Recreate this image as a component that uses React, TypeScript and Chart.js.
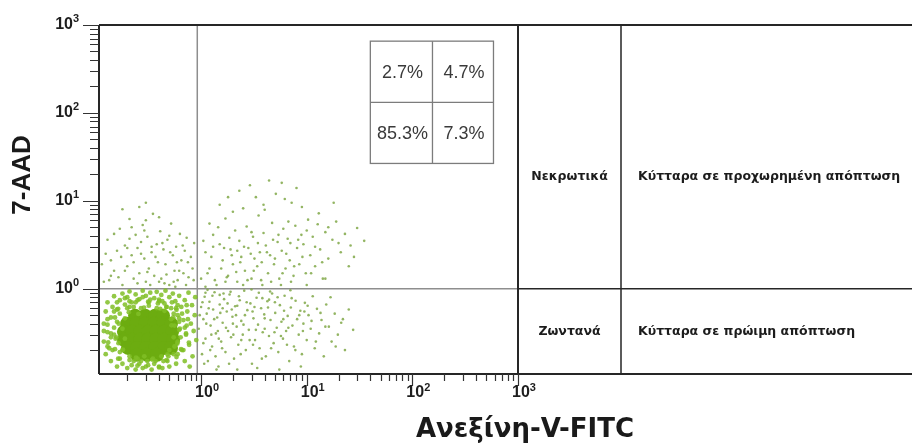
import { useEffect, useRef } from "react";
import { Chart, registerables } from "chart.js";

Chart.register(...registerables);

// ---- axis ranges & ticks ----
const X_MIN = 0.108;
const X_MAX = 1000;
const Y_MIN = 0.107;
const Y_MAX = 1000;
const majorTicks = [1, 10, 100, 1000];
const minorMultipliers = [2, 3, 4, 5, 6, 7, 8, 9];
const minorDecades = [0.1, 1, 10, 100];

// ---- quadrant gates ----
const gateX = 0.92;
const gateY = 1;

// ---- texts ----
const xTitle = "Ανεξίνη-V-FITC";
const yTitle = "7-AAD";
const quadrantPercents = ["2.7%", "4.7%", "85.3%", "7.3%"]; // UL, UR, LL, LR
const insetXBounds = [40, 155, 586];
const insetYBounds = [655, 132, 26.6];
const legendUpper = ["Νεκρωτικά", "Κύτταρα σε προχωρημένη απόπτωση"];
const legendLower = ["Ζωντανά", "Κύτταρα σε πρώιμη απόπτωση"];

// ---- events (Annexin-V-FITC, 7-AAD) ----
const upperLeftCells: [number, number][] = [
  [0.12, 1.2], [0.14, 2.1], [0.13, 3.6], [0.15, 1.6], [0.17, 4.8], [0.16, 2.7], [0.18, 1.1], [0.19, 3.1],
  [0.2, 1.8], [0.21, 6.2], [0.22, 2.4], [0.23, 1.3], [0.24, 4.1], [0.25, 2.9], [0.26, 1.5], [0.27, 3.4],
  [0.28, 5.3], [0.29, 2.2], [0.3, 1.2], [0.31, 3.9], [0.32, 1.7], [0.34, 2.6], [0.35, 7.1], [0.36, 1.4],
  [0.38, 3.2], [0.39, 2], [0.41, 4.5], [0.42, 1.3], [0.44, 2.8], [0.46, 1.9], [0.48, 3.6], [0.5, 1.1],
  [0.52, 5.5], [0.54, 2.4], [0.56, 1.6], [0.58, 3], [0.6, 1.25], [0.63, 4.2], [0.65, 2.1], [0.68, 1.5],
  [0.7, 2.7], [0.73, 3.8], [0.76, 1.35], [0.8, 2.3], [0.83, 1.7], [0.86, 3.3], [0.14, 1.4], [0.2, 2.9],
  [0.33, 1.1], [0.45, 1.15], [0.57, 1.05], [0.72, 1.1], [0.26, 8.5], [0.4, 6.5], [0.3, 9.5], [0.18, 8],
  [0.115, 1.9], [0.125, 2.5], [0.135, 1.25], [0.15, 4.2], [0.165, 1.35], [0.175, 2.3], [0.19, 1.6],
  [0.21, 3.7], [0.23, 2.0], [0.25, 1.15], [0.27, 2.5], [0.29, 4.6], [0.31, 1.55], [0.34, 3.0], [0.37, 2.3],
  [0.4, 1.2], [0.43, 3.3], [0.47, 1.45], [0.51, 2.6], [0.55, 1.2], [0.59, 2.0], [0.62, 1.6], [0.67, 3.1],
  [0.75, 2.0], [0.85, 1.25], [0.22, 5.0], [0.3, 6.0], [0.5, 4.0],
];

const upperRightCells: [number, number][] = [
  [1.0, 1.3], [1.1, 2.6], [1.2, 1.7], [1.3, 4.1], [1.4, 1.1], [1.5, 3.2], [1.6, 2.1], [1.7, 6.3],
  [1.8, 1.4], [1.9, 2.8], [2.0, 1.9], [2.1, 4.6], [2.2, 1.2], [2.3, 3.5], [2.4, 2.3], [2.5, 8.2],
  [2.6, 1.6], [2.7, 5.1], [2.8, 2.9], [3.0, 1.3], [3.1, 3.9], [3.2, 2.2], [3.4, 1.8], [3.5, 6.8],
  [3.6, 2.6], [3.8, 1.1], [3.9, 4.3], [4.1, 3.1], [4.3, 1.5], [4.5, 2.4], [4.7, 5.6], [4.9, 1.9],
  [5.1, 12], [5.3, 3.4], [5.5, 1.3], [5.8, 2.7], [6.0, 4.8], [6.3, 1.7], [6.6, 3.7], [6.9, 2.1],
  [7.2, 9.5], [7.5, 1.4], [7.8, 5.2], [8.1, 2.9], [8.5, 1.9], [8.9, 4.1], [9.3, 3.2], [9.8, 1.5],
  [10.3, 6.1], [10.8, 2.4], [11.4, 3.9], [12, 1.8], [12.7, 5.4], [13.4, 2.8], [14.2, 1.3], [15, 4.4],
  [16, 2.2], [17.5, 3.6], [19, 5.8], [21, 2.6], [23, 4.2], [26, 3.1], [30, 4.9], [35, 3.5],
  [2.9, 15], [4.4, 17], [6.2, 10.5], [3.3, 11], [1.5, 9], [8, 14], [1.2, 5.5], [2.0, 7.5],
  [4.0, 7.9], [9.0, 8.5], [13, 7.2], [18, 9.5], [1.1, 1.05], [1.7, 1.2], [2.5, 1.1], [3.7, 1.25],
  [5.7, 1.1], [7.1, 1.2], [10, 1.1], [15, 1.3], [25, 1.8],
  [1.05, 3.5], [1.15, 1.5], [1.25, 2.3], [1.35, 1.25], [1.45, 5.0], [1.55, 1.7], [1.65, 2.9], [1.75, 1.35],
  [1.85, 3.8], [1.95, 2.4], [2.15, 1.55], [2.35, 2.0], [2.55, 3.0], [2.75, 1.25], [2.95, 2.5], [3.15, 1.6],
  [3.45, 3.3], [3.75, 2.0], [4.2, 2.6], [4.6, 1.2], [5.0, 2.2], [5.4, 4.1], [5.9, 1.5], [6.4, 2.5],
  [7.0, 3.3], [7.6, 1.8], [8.3, 3.6], [9.1, 2.3], [11, 1.5], [12, 3.0], [14, 2.0], [16, 5.0],
  [20, 3.3], [28, 2.3], [1.3, 3.0], [2.2, 2.7], [3.0, 4.4], [4.8, 3.6], [6.7, 5.8], [10, 4.6],
  [2.3, 13], [5.8, 16], [3.9, 9], [1.8, 11],
];

const lowerRightCells: [number, number][] = [
  [0.95, 0.35], [1.0, 0.62], [1.02, 0.18], [1.05, 0.45], [1.08, 0.81], [1.1, 0.27], [1.13, 0.52], [1.16, 0.15],
  [1.2, 0.71], [1.23, 0.38], [1.27, 0.22], [1.3, 0.58], [1.34, 0.91], [1.38, 0.31], [1.42, 0.47], [1.46, 0.13],
  [1.5, 0.66], [1.55, 0.25], [1.6, 0.41], [1.65, 0.76], [1.7, 0.19], [1.75, 0.55], [1.8, 0.33], [1.86, 0.86],
  [1.92, 0.28], [1.98, 0.48], [2.05, 0.16], [2.1, 0.63], [2.17, 0.37], [2.25, 0.23], [2.32, 0.74], [2.4, 0.43],
  [2.48, 0.3], [2.56, 0.95], [2.65, 0.2], [2.74, 0.57], [2.83, 0.34], [2.93, 0.68], [3.03, 0.14], [3.13, 0.46],
  [3.24, 0.26], [3.35, 0.79], [3.46, 0.39], [3.58, 0.21], [3.7, 0.6], [3.83, 0.32], [3.96, 0.51], [4.1, 0.17],
  [4.24, 0.72], [4.39, 0.29], [4.54, 0.44], [4.7, 0.88], [4.86, 0.24], [5.03, 0.53], [5.2, 0.36], [5.38, 0.19],
  [5.57, 0.65], [5.76, 0.42], [5.96, 0.27], [6.17, 0.83], [6.38, 0.33], [6.6, 0.49], [6.83, 0.15], [7.07, 0.61],
  [7.32, 0.38], [7.57, 0.22], [7.84, 0.73], [8.11, 0.45], [8.4, 0.3], [8.7, 0.56], [9.0, 0.18], [9.3, 0.4],
  [9.6, 0.69], [10, 0.26], [10.4, 0.5], [10.9, 0.35], [11.4, 0.82], [11.9, 0.21], [12.5, 0.59], [13.1, 0.31],
  [13.8, 0.44], [14.5, 0.17], [15.3, 0.66], [16.2, 0.37], [17.2, 0.25], [18.4, 0.52], [19.7, 0.3], [21.2, 0.41],
  [23, 0.2], [25, 0.58], [27.5, 0.34], [1.15, 0.97], [1.9, 0.92], [3.0, 0.98], [4.5, 0.93], [7.0, 0.96],
  [2.2, 0.12], [3.4, 0.125], [5.5, 0.12], [8.8, 0.13], [1.4, 0.12], [1.25, 0.3], [1.6, 0.6], [2.0, 0.4],
  [2.6, 0.5], [3.2, 0.62], [4.0, 0.35], [5.0, 0.7], [6.0, 0.45], [1.05, 0.24], [1.5, 0.85], [2.4, 0.26],
  [3.8, 0.78], [6.5, 0.23], [9.5, 0.55],
  [0.97, 0.5], [1.03, 0.7], [1.07, 0.14], [1.12, 0.4], [1.18, 0.6], [1.22, 0.2], [1.28, 0.83], [1.33, 0.45],
  [1.37, 0.17], [1.44, 0.33], [1.52, 0.53], [1.58, 0.21], [1.63, 0.88], [1.72, 0.36], [1.78, 0.68], [1.84, 0.14],
  [1.95, 0.58], [2.02, 0.3], [2.14, 0.5], [2.28, 0.82], [2.37, 0.18], [2.52, 0.39], [2.7, 0.7], [2.88, 0.26],
  [3.07, 0.55], [3.3, 0.34], [3.52, 0.9], [3.76, 0.16], [4.0, 0.46], [4.3, 0.61], [4.6, 0.21], [4.95, 0.32],
  [5.3, 0.8], [5.7, 0.29], [6.1, 0.56], [6.7, 0.36], [7.2, 0.78], [7.8, 0.2], [8.5, 0.5], [9.2, 0.33],
  [10.2, 0.64], [11.1, 0.43], [12.2, 0.25], [13.5, 0.53], [15, 0.37], [16.8, 0.8], [18.8, 0.22], [22, 0.45],
  [1.1, 0.9], [1.47, 0.27], [2.2, 0.64], [3.1, 0.23], [4.4, 0.75],
];

const liveHaloCells: [number, number][] = [
  [0.12, 0.25], [0.12, 0.4], [0.125, 0.18], [0.125, 0.55], [0.13, 0.32], [0.13, 0.7], [0.135, 0.21], [0.14, 0.47],
  [0.14, 0.15], [0.145, 0.62], [0.15, 0.36], [0.15, 0.82], [0.155, 0.27], [0.16, 0.13], [0.16, 0.58], [0.17, 0.74],
  [0.17, 0.19], [0.18, 0.88], [0.18, 0.14], [0.19, 0.66], [0.2, 0.8], [0.2, 0.125], [0.21, 0.93], [0.22, 0.7],
  [0.22, 0.135], [0.24, 0.86], [0.24, 0.12], [0.26, 0.76], [0.26, 0.14], [0.28, 0.95], [0.28, 0.125], [0.3, 0.83],
  [0.3, 0.13], [0.32, 0.7], [0.33, 0.9], [0.34, 0.12], [0.36, 0.78], [0.36, 0.14], [0.38, 0.92], [0.4, 0.72],
  [0.4, 0.13], [0.42, 0.85], [0.43, 0.125], [0.45, 0.68], [0.46, 0.95], [0.48, 0.15], [0.5, 0.8], [0.5, 0.13],
  [0.52, 0.6], [0.54, 0.88], [0.55, 0.18], [0.57, 0.72], [0.58, 0.14], [0.6, 0.5], [0.6, 0.25], [0.62, 0.83],
  [0.63, 0.35], [0.65, 0.62], [0.66, 0.2], [0.68, 0.44], [0.7, 0.74], [0.7, 0.15], [0.72, 0.3], [0.74, 0.55],
  [0.76, 0.9], [0.77, 0.23], [0.8, 0.4], [0.82, 0.65], [0.83, 0.17], [0.85, 0.33], [0.87, 0.5], [0.88, 0.8],
  [0.78, 0.13], [0.9, 0.26],
  [0.15, 0.3], [0.16, 0.42], [0.165, 0.24], [0.17, 0.52], [0.18, 0.35], [0.18, 0.2], [0.19, 0.46], [0.2, 0.6],
  [0.21, 0.17], [0.23, 0.62], [0.25, 0.16], [0.27, 0.6], [0.29, 0.17], [0.32, 0.64], [0.35, 0.16], [0.38, 0.6],
  [0.42, 0.17], [0.45, 0.56], [0.5, 0.2], [0.52, 0.45], [0.55, 0.28], [0.56, 0.38], [0.58, 0.6], [0.6, 0.18],
  [0.19, 0.27], [0.55, 0.52],
  [0.13, 0.45], [0.14, 0.28], [0.145, 0.2], [0.15, 0.55], [0.16, 0.7], [0.17, 0.16], [0.19, 0.78], [0.21, 0.72],
  [0.23, 0.15], [0.24, 0.7], [0.27, 0.15], [0.28, 0.8], [0.31, 0.15], [0.33, 0.75], [0.37, 0.15], [0.39, 0.68],
  [0.43, 0.72], [0.44, 0.15], [0.47, 0.62], [0.49, 0.17], [0.53, 0.7], [0.56, 0.22], [0.6, 0.65], [0.62, 0.42],
  [0.64, 0.28], [0.66, 0.52], [0.7, 0.36], [0.73, 0.65], [0.12, 0.33], [0.13, 0.22], [0.75, 0.45], [0.68, 0.2],
  [0.72, 0.31], [0.73, 0.38], [0.62, 0.46], [0.585, 0.575], [0.47, 0.62], [0.4, 0.75], [0.315, 0.71], [0.25, 0.74],
  [0.21, 0.62], [0.164, 0.59], [0.153, 0.47], [0.13, 0.39], [0.14, 0.31], [0.132, 0.245], [0.153, 0.205], [0.164, 0.16],
  [0.21, 0.154], [0.25, 0.133], [0.315, 0.135], [0.4, 0.127], [0.47, 0.154], [0.585, 0.167], [0.646, 0.205], [0.766, 0.244],
  [0.62, 0.34], [0.545, 0.47], [0.41, 0.59], [0.288, 0.61], [0.207, 0.54], [0.166, 0.4], [0.158, 0.28], [0.182, 0.203],
  [0.242, 0.164], [0.344, 0.156], [0.48, 0.179], [0.596, 0.238], [0.525, 0.383], [0.255, 0.516],
];

const liveCoreCells: [number, number][] = [
  [0.237, 0.492], [0.295, 0.492], [0.366, 0.492], [0.436, 0.492],
  [0.199, 0.399], [0.242, 0.399], [0.295, 0.399], [0.359, 0.399], [0.436, 0.399], [0.519, 0.399],
  [0.186, 0.323], [0.222, 0.323], [0.264, 0.323], [0.315, 0.323], [0.375, 0.323], [0.446, 0.323], [0.531, 0.323],
  [0.186, 0.262], [0.222, 0.262], [0.264, 0.262], [0.315, 0.262], [0.375, 0.262], [0.446, 0.262], [0.543, 0.262],
  [0.203, 0.212], [0.247, 0.212], [0.301, 0.212], [0.366, 0.212], [0.446, 0.212], [0.519, 0.212],
  [0.247, 0.177], [0.308, 0.177], [0.383, 0.177],
];

const toPoints = (arr: [number, number][]) => arr.map(([x, y]) => ({ x, y }));

const flowPlugin = {
  id: "flowDecor",
  beforeDraw(chart: any) {
    const ctx = chart.ctx;
    ctx.save();
    ctx.fillStyle = "#ffffff";
    ctx.fillRect(0, 0, chart.width, chart.height);
    ctx.restore();
  },
  beforeDatasetsDraw(chart: any) {
    const ctx = chart.ctx;
    const { left, right, top, bottom } = chart.chartArea;
    const xs = chart.scales.x;
    const ys = chart.scales.y;
    const gx = xs.getPixelForValue(gateX);
    const gy = ys.getPixelForValue(gateY);
    ctx.save();
    ctx.strokeStyle = "#8e8e8e";
    ctx.lineWidth = 1.5;
    ctx.beginPath();
    ctx.moveTo(gx, top);
    ctx.lineTo(gx, bottom);
    ctx.moveTo(left, gy);
    ctx.lineTo(right, gy);
    ctx.stroke();
    ctx.restore();
  },
  afterDatasetsDraw(chart: any) {
    const ctx = chart.ctx;
    const { left, right, top, bottom } = chart.chartArea;
    const W = chart.width;
    const xs = chart.scales.x;
    const ys = chart.scales.y;
    const gy = ys.getPixelForValue(gateY);
    const colDiv = right + 103;

    ctx.save();
    // frame
    ctx.strokeStyle = "#262626";
    ctx.lineWidth = 2;
    ctx.beginPath();
    ctx.moveTo(left, top);
    ctx.lineTo(W, top);
    ctx.moveTo(left, bottom);
    ctx.lineTo(W, bottom);
    ctx.moveTo(left, top);
    ctx.lineTo(left, bottom);
    ctx.moveTo(right, top);
    ctx.lineTo(right, bottom);
    ctx.stroke();
    ctx.lineWidth = 1.5;
    ctx.beginPath();
    ctx.moveTo(colDiv, top);
    ctx.lineTo(colDiv, bottom);
    ctx.moveTo(right, gy);
    ctx.lineTo(W, gy);
    ctx.stroke();

    // ticks
    ctx.strokeStyle = "#333333";
    ctx.lineWidth = 1.2;
    ctx.beginPath();
    for (const d of minorDecades) {
      for (const m of minorMultipliers) {
        const v = d * m;
        if (v > X_MIN && v < X_MAX) {
          const px = Math.round(xs.getPixelForValue(v)) + 0.5;
          ctx.moveTo(px, bottom);
          ctx.lineTo(px, bottom + 7);
        }
        if (v > Y_MIN && v < Y_MAX) {
          const py = Math.round(ys.getPixelForValue(v)) + 0.5;
          ctx.moveTo(left, py);
          ctx.lineTo(left - 9, py);
        }
      }
    }
    for (const v of majorTicks) {
      const px = Math.round(xs.getPixelForValue(v)) + 0.5;
      ctx.moveTo(px, bottom);
      ctx.lineTo(px, bottom + 12);
      const py = Math.round(ys.getPixelForValue(v)) + 0.5;
      ctx.moveTo(left, py);
      ctx.lineTo(left - 16, py);
    }
    ctx.stroke();

    // tick labels
    ctx.fillStyle = "#1e1e1e";
    ctx.textBaseline = "alphabetic";
    for (const v of majorTicks) {
      const exp = String(Math.round(Math.log10(v)));
      const px = xs.getPixelForValue(v);
      ctx.font = 'bold 16px "Liberation Sans", Arial, sans-serif';
      ctx.textAlign = "left";
      const w10 = ctx.measureText("10").width;
      ctx.fillText("10", px - 6, bottom + 23);
      ctx.font = 'bold 11px "Liberation Sans", Arial, sans-serif';
      ctx.fillText(exp, px - 6 + w10, bottom + 17);

      const py = ys.getPixelForValue(v);
      ctx.font = 'bold 16px "Liberation Sans", Arial, sans-serif';
      ctx.textAlign = "right";
      ctx.fillText("10", left - 26, py + 4);
      ctx.font = 'bold 11px "Liberation Sans", Arial, sans-serif';
      ctx.textAlign = "left";
      ctx.fillText(exp, left - 26, py - 3);
    }

    // axis titles
    ctx.fillStyle = "#1a1a1a";
    ctx.font = 'bold 26px "DejaVu Sans", sans-serif';
    ctx.textAlign = "center";
    ctx.fillText(xTitle, right + 7, 437);
    ctx.save();
    ctx.translate(23, top + 150);
    ctx.rotate(-Math.PI / 2);
    ctx.font = 'bold 26px "Liberation Sans", Arial, sans-serif';
    ctx.textAlign = "center";
    ctx.textBaseline = "middle";
    ctx.fillText(yTitle, 0, 0);
    ctx.restore();

    // inset percentage table
    const ix = insetXBounds.map((v) => xs.getPixelForValue(v));
    const iy = insetYBounds.map((v) => ys.getPixelForValue(v));
    ctx.strokeStyle = "#7c7c7c";
    ctx.lineWidth = 1.3;
    ctx.strokeRect(ix[0], iy[0], ix[2] - ix[0], iy[2] - iy[0]);
    ctx.beginPath();
    ctx.moveTo(ix[1], iy[0]);
    ctx.lineTo(ix[1], iy[2]);
    ctx.moveTo(ix[0], iy[1]);
    ctx.lineTo(ix[2], iy[1]);
    ctx.stroke();
    ctx.fillStyle = "#3a3a3a";
    ctx.font = '18px "Liberation Sans", Arial, sans-serif';
    ctx.textAlign = "center";
    ctx.textBaseline = "middle";
    quadrantPercents.forEach((t, i) => {
      const c = i % 2;
      const r = Math.floor(i / 2);
      ctx.fillText(t, (ix[c] + ix[c + 1]) / 2 + 1, (iy[r] + iy[r + 1]) / 2 + 1);
    });

    // right-hand legend table
    ctx.fillStyle = "#1c1c1c";
    ctx.font = 'bold 12.5px "DejaVu Sans", sans-serif';
    ctx.textBaseline = "middle";
    const rowUpperY = top + 152;
    const rowLowerY = (gy + bottom) / 2;
    ctx.textAlign = "center";
    ctx.fillText(legendUpper[0], (right + colDiv) / 2, rowUpperY);
    ctx.fillText(legendLower[0], (right + colDiv) / 2, rowLowerY);
    ctx.textAlign = "left";
    ctx.fillText(legendUpper[1], colDiv + 17, rowUpperY);
    ctx.fillText(legendLower[1], colDiv + 17, rowLowerY);
    ctx.restore();
  },
};

export default function App() {
  const ref = useRef<HTMLCanvasElement>(null);
  useEffect(() => {
    if (!ref.current) return;
    const sparse = "rgba(128,168,72,0.85)";
    const chart = new Chart(ref.current, {
      type: "scatter",
      data: {
        datasets: [
          { label: "UL", data: toPoints(upperLeftCells), pointRadius: 1.3, backgroundColor: sparse, borderWidth: 0, order: 1 },
          { label: "UR", data: toPoints(upperRightCells), pointRadius: 1.3, backgroundColor: sparse, borderWidth: 0, order: 1 },
          { label: "LR", data: toPoints(lowerRightCells), pointRadius: 1.3, backgroundColor: sparse, borderWidth: 0, order: 1 },
          { label: "halo", data: toPoints(liveHaloCells), pointRadius: 2.4, backgroundColor: "rgba(128,190,38,0.85)", borderWidth: 0, order: 2 },
          { label: "core", data: toPoints(liveCoreCells), pointRadius: 7, backgroundColor: "rgb(108,172,16)", borderWidth: 0, order: 3 },
        ],
      },
      options: {
        responsive: false,
        animation: false,
        events: [],
        layout: { padding: { left: 99, right: 394, top: 25, bottom: 69 } },
        scales: {
          x: { type: "logarithmic", min: X_MIN, max: X_MAX, display: false },
          y: { type: "logarithmic", min: Y_MIN, max: Y_MAX, display: false },
        },
        plugins: { legend: { display: false }, tooltip: { enabled: false } },
      },
      plugins: [flowPlugin],
    } as any);
    return () => chart.destroy();
  }, []);
  return (
    <div style={{ position: "absolute", left: 0, top: 0, width: 912, height: 443, background: "#fff" }}>
      <canvas ref={ref} width={912} height={443} style={{ display: "block", width: 912, height: 443 }} />
    </div>
  );
}
